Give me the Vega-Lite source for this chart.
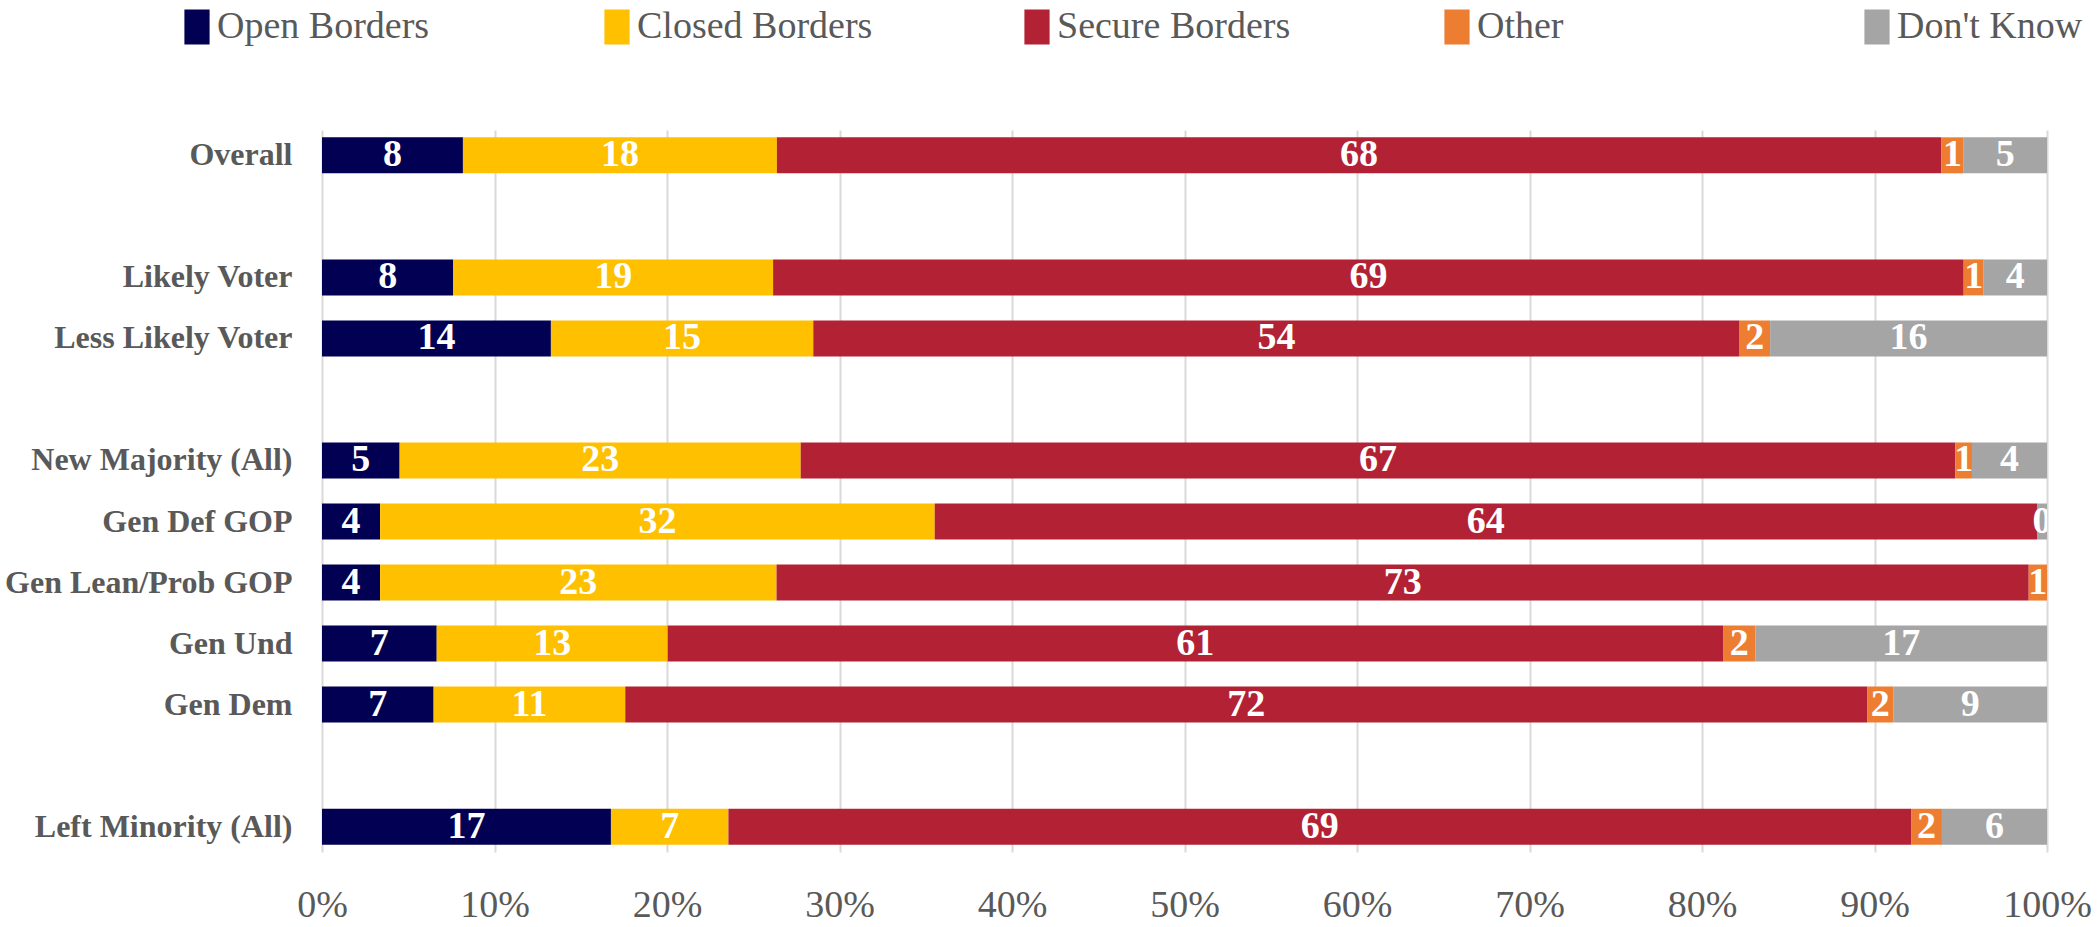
{
  "$schema": "https://vega.github.io/schema/vega-lite/v6.json",
  "width": 1725,
  "height": 722,
  "autosize": {"type": "none"},
  "padding": {"left": 322, "top": 130, "right": 51, "bottom": 75},
  "background": "white",
  "config": {"font": "Liberation Serif", "view": {"stroke": null}},
  "data": {"values": [
    {"g": "Overall", "r": "Open Borders", "k": 0, "v": 8.17, "label": "8"},
    {"g": "Overall", "r": "Closed Borders", "k": 1, "v": 18.2, "label": "18"},
    {"g": "Overall", "r": "Secure Borders", "k": 2, "v": 67.49, "label": "68"},
    {"g": "Overall", "r": "Other", "k": 3, "v": 1.31, "label": "1"},
    {"g": "Overall", "r": "Don't Know", "k": 4, "v": 4.83, "label": "5"},
    {"g": "Likely Voter", "r": "Open Borders", "k": 0, "v": 7.61, "label": "8"},
    {"g": "Likely Voter", "r": "Closed Borders", "k": 1, "v": 18.54, "label": "19"},
    {"g": "Likely Voter", "r": "Secure Borders", "k": 2, "v": 69.02, "label": "69"},
    {"g": "Likely Voter", "r": "Other", "k": 3, "v": 1.16, "label": "1"},
    {"g": "Likely Voter", "r": "Don't Know", "k": 4, "v": 3.67, "label": "4"},
    {"g": "Less Likely Voter", "r": "Open Borders", "k": 0, "v": 13.27, "label": "14"},
    {"g": "Less Likely Voter", "r": "Closed Borders", "k": 1, "v": 15.21, "label": "15"},
    {"g": "Less Likely Voter", "r": "Secure Borders", "k": 2, "v": 53.7, "label": "54"},
    {"g": "Less Likely Voter", "r": "Other", "k": 3, "v": 1.77, "label": "2"},
    {"g": "Less Likely Voter", "r": "Don't Know", "k": 4, "v": 16.05, "label": "16"},
    {"g": "New Majority (All)", "r": "Open Borders", "k": 0, "v": 4.5, "label": "5"},
    {"g": "New Majority (All)", "r": "Closed Borders", "k": 1, "v": 23.25, "label": "23"},
    {"g": "New Majority (All)", "r": "Secure Borders", "k": 2, "v": 66.94, "label": "67"},
    {"g": "New Majority (All)", "r": "Other", "k": 3, "v": 0.96, "label": "1"},
    {"g": "New Majority (All)", "r": "Don't Know", "k": 4, "v": 4.35, "label": "4"},
    {"g": "Gen Def GOP", "r": "Open Borders", "k": 0, "v": 3.37, "label": "4"},
    {"g": "Gen Def GOP", "r": "Closed Borders", "k": 1, "v": 32.15, "label": "32"},
    {"g": "Gen Def GOP", "r": "Secure Borders", "k": 2, "v": 63.9, "label": "64"},
    {"g": "Gen Def GOP", "r": "Don't Know", "k": 4, "v": 0.58, "label": "0"},
    {"g": "Gen Lean/Prob GOP", "r": "Open Borders", "k": 0, "v": 3.37, "label": "4"},
    {"g": "Gen Lean/Prob GOP", "r": "Closed Borders", "k": 1, "v": 22.98, "label": "23"},
    {"g": "Gen Lean/Prob GOP", "r": "Secure Borders", "k": 2, "v": 72.59, "label": "73"},
    {"g": "Gen Lean/Prob GOP", "r": "Other", "k": 3, "v": 1.06, "label": "1"},
    {"g": "Gen Und", "r": "Open Borders", "k": 0, "v": 6.65, "label": "7"},
    {"g": "Gen Und", "r": "Closed Borders", "k": 1, "v": 13.39, "label": "13"},
    {"g": "Gen Und", "r": "Secure Borders", "k": 2, "v": 61.18, "label": "61"},
    {"g": "Gen Und", "r": "Other", "k": 3, "v": 1.87, "label": "2"},
    {"g": "Gen Und", "r": "Don't Know", "k": 4, "v": 16.91, "label": "17"},
    {"g": "Gen Dem", "r": "Open Borders", "k": 0, "v": 6.47, "label": "7"},
    {"g": "Gen Dem", "r": "Closed Borders", "k": 1, "v": 11.11, "label": "11"},
    {"g": "Gen Dem", "r": "Secure Borders", "k": 2, "v": 71.99, "label": "72"},
    {"g": "Gen Dem", "r": "Other", "k": 3, "v": 1.54, "label": "2"},
    {"g": "Gen Dem", "r": "Don't Know", "k": 4, "v": 8.89, "label": "9"},
    {"g": "Left Minority (All)", "r": "Open Borders", "k": 0, "v": 16.75, "label": "17"},
    {"g": "Left Minority (All)", "r": "Closed Borders", "k": 1, "v": 6.81, "label": "7"},
    {"g": "Left Minority (All)", "r": "Secure Borders", "k": 2, "v": 68.56, "label": "69"},
    {"g": "Left Minority (All)", "r": "Other", "k": 3, "v": 1.79, "label": "2"},
    {"g": "Left Minority (All)", "r": "Don't Know", "k": 4, "v": 6.09, "label": "6"}
  ]},
  "transform": [
    {"stack": "v", "groupby": ["g"], "sort": [{"field": "k", "order": "ascending"}], "offset": "normalize", "as": ["x0", "x1"]},
    {"calculate": "(datum.x0 + datum.x1) / 2", "as": "xm"}
  ],
  "encoding": {
    "y": {
      "field": "g", "type": "nominal",
      "scale": {"domain": ["Overall", " ", "Likely Voter", "Less Likely Voter", "  ", "New Majority (All)", "Gen Def GOP", "Gen Lean/Prob GOP", "Gen Und", "Gen Dem", "   ", "Left Minority (All)"], "paddingInner": 0.41, "paddingOuter": 0.12},
      "axis": {"title": null, "domain": false, "ticks": false, "labelFontSize": 32, "labelFontWeight": "bold", "labelColor": "#595959", "labelPadding": 30, "labelLimit": 400}
    }
  },
  "layer": [
    {
      "mark": {"type": "bar"},
      "encoding": {
        "x": {"field": "x0", "type": "quantitative", "scale": {"domain": [0, 1], "nice": false},
          "axis": {"title": null, "format": "%", "values": [0, 0.1, 0.2, 0.3, 0.4, 0.5, 0.6, 0.7, 0.8, 0.9, 1], "domain": false, "ticks": false, "gridColor": "#d9d9d9", "gridWidth": 2, "labelFontSize": 38, "labelColor": "#595959", "labelPadding": 34, "labelFlush": false}},
        "x2": {"field": "x1"},
        "color": {
          "field": "r", "type": "nominal",
          "scale": {"domain": ["Open Borders", "Closed Borders", "Secure Borders", "Other", "Don't Know"], "range": ["#020052", "#FFC000", "#B22234", "#ED7D31", "#A5A5A5"]},
          "legend": {"orient": "none", "legendX": -144, "legendY": -122, "direction": "horizontal", "columns": 5, "gridAlign": "all", "columnPadding": 145, "title": null, "labelFontSize": 38, "labelLimit": 500, "labelColor": "#595959", "symbolType": "M-0.72,-1 h1.44 v2 h-1.44 z", "symbolSize": 1225, "symbolOpacity": 1, "symbolStrokeWidth": 0, "labelOffset": 1}
        }
      }
    },
    {
      "mark": {"type": "text", "color": "white", "fontWeight": "bold", "fontSize": 38, "clip": true},
      "encoding": {
        "x": {"field": "xm", "type": "quantitative"},
        "text": {"field": "label"}
      }
    }
  ]
}
